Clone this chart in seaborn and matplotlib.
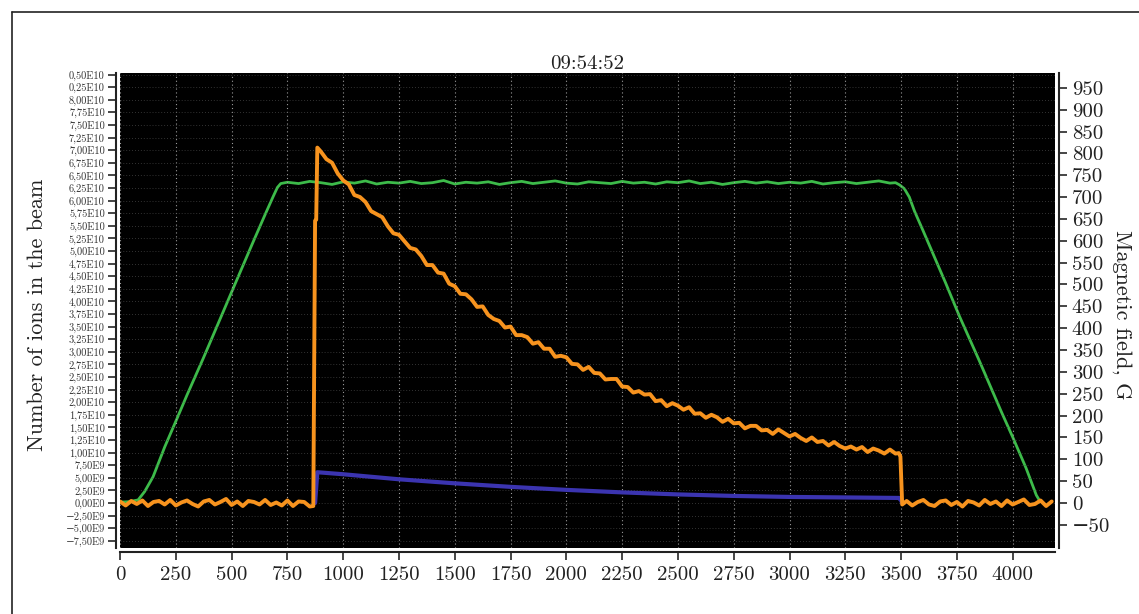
import numpy as np
import matplotlib.pyplot as plt
from matplotlib.lines import Line2D
import seaborn as sns

# Chart data
TITLE = '09:54:52'
ION_LABEL = 'Number of ions in the beam'
FIELD_LABEL = 'Magnetic field, G'

# orange trace: number of ions (units of 1e10)
ion_x = np.concatenate([np.arange(0, 875, 25), [866, 874, 879, 884],
                        np.arange(900, 3500, 25), [3490, 3497, 3505],
                        np.arange(3525, 4200, 25)])
ion_vals = [
    0.03, -0.05, 0.04, -0.02, 0.05, -0.06, 0.02, 0.04, -0.03, 0.06, -0.05, 0.01,
    0.05, -0.02, -0.07, 0.03, 0.06, -0.03, 0.02, 0.08, -0.04, 0.03, -0.06, 0.04,
    0.02, -0.03, 0.06, -0.04, 0.01, -0.05, 0.05, -0.06, 0.03, 0.02, -0.07,
    -0.06, 5.60, 5.62, 7.05,
    6.97, 6.82, 6.75, 6.54, 6.40, 6.32, 6.11, 6.07,
    5.97, 5.79, 5.73, 5.67, 5.49, 5.35, 5.32, 5.19,
    5.06, 5.03, 4.90, 4.72, 4.72, 4.57, 4.55, 4.35,
    4.30, 4.15, 4.14, 4.04, 3.89, 3.90, 3.73, 3.65,
    3.61, 3.48, 3.50, 3.33, 3.33, 3.29, 3.16, 3.19,
    3.06, 3.06, 2.90, 2.92, 2.89, 2.76, 2.75, 2.64,
    2.70, 2.58, 2.57, 2.45, 2.46, 2.46, 2.31, 2.30,
    2.19, 2.22, 2.15, 2.16, 2.02, 2.04, 1.92, 1.98,
    1.93, 1.85, 1.90, 1.77, 1.78, 1.69, 1.75, 1.70,
    1.61, 1.67, 1.58, 1.59, 1.48, 1.53, 1.53, 1.44,
    1.45, 1.37, 1.46, 1.39, 1.32, 1.37, 1.29, 1.23,
    1.30, 1.21, 1.23, 1.14, 1.21, 1.13, 1.08, 1.12,
    1.06, 1.11, 1.01, 1.08, 1.04, 0.98, 1.06, 0.98,
    0.99, 0.92, -0.03,
    0.04, -0.05, 0.02, 0.06, -0.03, -0.06, 0.03, 0.05, -0.04,
    0.02, -0.07, 0.04, 0.01, -0.05, 0.06, -0.02, 0.03, -0.06,
    0.05, -0.03, 0.02, 0.07, -0.04, -0.02, 0.05, -0.06, 0.03,
]

# blue trace: second beam signal (units of 1e10)
beam_x = [874, 884, 1000, 1250, 1500, 1750, 2000, 2250, 2500, 2750,
          3000, 3250, 3490, 3500, 3505, 3512]
beam_vals = [0.0, 0.61, 0.57, 0.47, 0.39, 0.32, 0.26, 0.21, 0.17,
             0.14, 0.12, 0.11, 0.10, 0.05, 0.0, 0.0]

# green trace: magnetic field, G
field_x = np.concatenate([[0, 40, 81, 110, 148, 200, 255, 300, 372, 450, 506,
                           596, 650, 685, 705, 720],
                          np.arange(750, 3500, 50),
                          [3475, 3493, 3515, 3537, 3560, 3597, 3700, 3761,
                           3851, 3950, 4000, 4060, 4106, 4120]])
field_vals = [
    2, 3, 7, 26, 60, 128, 193, 247, 330, 423, 490, 597, 660, 700, 722, 731,
    734, 731, 736, 733, 729, 735, 732, 737, 730, 734, 732,
    736, 731, 733, 738, 730, 734, 732, 735, 729, 733, 736,
    731, 734, 737, 732, 730, 735, 733, 731, 736, 732, 734,
    730, 735, 733, 737, 731, 734, 729, 733, 736, 732, 735,
    731, 734, 732, 736, 730, 733, 735, 731, 734, 737, 732,
    733, 728, 719, 700, 668, 625, 503, 428, 325, 208, 151, 80, 18, 6,
]

ion_ticks = np.arange(-3, 35) * 0.25e10
ion_tick_labels = [
    '−7,50E9', '−5,00E9', '−2,50E9', '0,00E0', '2,50E9', '5,00E9', '7,50E9',
    '1,00E10', '1,25E10', '1,50E10', '1,75E10', '2,00E10', '2,25E10', '2,50E10', '2,75E10',
    '3,00E10', '3,25E10', '3,50E10', '3,75E10', '4,00E10', '4,25E10', '4,50E10', '4,75E10',
    '5,00E10', '5,25E10', '5,50E10', '5,75E10', '6,00E10', '6,25E10', '6,50E10', '6,75E10',
    '7,00E10', '7,25E10', '7,50E10', '7,75E10', '8,00E10', '0,25E10', '0,50E10',
]
field_ticks = np.arange(-50, 951, 50)
time_ticks = np.arange(0, 4001, 250)

ORANGE = '#f7931e'
GREEN = '#3dbb4a'
BLUE = '#3b34b0'

sns.set_style('ticks')
plt.rcParams['font.family'] = ['cmr10', 'DejaVu Serif']
plt.rcParams['axes.unicode_minus'] = True

fig = plt.figure(figsize=(11.39, 6.14), dpi=100)
ax = fig.add_axes([0.1054, 0.1075, 0.8209, 0.7736])
ax2 = ax.twinx()
ax2.patch.set_visible(True)
ax2.set_facecolor('black')
ax.set_zorder(ax2.get_zorder() + 1)
ax.patch.set_visible(False)

sns.lineplot(x=field_x, y=field_vals, ax=ax2, color=GREEN, lw=2.0, estimator=None)
sns.lineplot(x=beam_x, y=np.array(beam_vals) * 1e10, ax=ax, color=BLUE, lw=3.0, estimator=None)
sns.lineplot(x=ion_x, y=np.array(ion_vals) * 1e10, ax=ax, color=ORANGE, lw=2.8, estimator=None)

ax.set_xlim(0, 4190)
ax.set_ylim(-0.893e10, 8.53e10)
ax2.set_ylim(-103, 984)

ax.set_xticks(time_ticks)
ax.set_yticks(ion_ticks, labels=ion_tick_labels)
ax2.set_yticks(field_ticks)

# dotted scope grid
ax.xaxis.grid(True, color='#9a9a9a', ls=(0, (1, 2.5)), lw=0.8)
ax.yaxis.grid(True, color='#444444', ls=(0, (1, 2.5)), lw=0.6)
ax2.grid(False)

for s in ['top', 'right']:
    ax.spines[s].set_visible(False)
for s in ['top', 'left', 'bottom']:
    ax2.spines[s].set_visible(False)
ax.spines['left'].set_position(('outward', 3))
ax.spines['bottom'].set_position(('outward', 3))
ax2.spines['right'].set_position(('outward', 3))
for sp in [ax.spines['left'], ax.spines['bottom'], ax2.spines['right']]:
    sp.set_linewidth(1.5)
    sp.set_color('#222222')

ax.tick_params(axis='y', length=6, width=1.2, labelsize=7.5, pad=2, labelcolor='#333333')
ax.tick_params(axis='x', length=6, width=1.2, labelsize=15, pad=4, labelcolor='#222222')
ax2.tick_params(axis='y', length=6, width=1.2, labelsize=15, pad=3, labelcolor='#222222')

ax.set_ylabel(ION_LABEL, fontsize=16, color='#222222', va='center')
ax.yaxis.set_label_coords(-0.089, 0.49)
ax2.set_ylabel(FIELD_LABEL, fontsize=16, rotation=270, color='#222222', va='center')
ax2.yaxis.set_label_coords(1.072, 0.49)
ax.set_title(TITLE, fontsize=15, pad=3, color='#222222')

# outer frame of the screenshot
fig.add_artist(Line2D([12 / 1139, 12 / 1139], [0, 1 - 12 / 614], color='#222222', lw=1.2,
                      transform=fig.transFigure))
fig.add_artist(Line2D([12 / 1139, 1], [1 - 12 / 614, 1 - 12 / 614], color='#222222', lw=1.2,
                      transform=fig.transFigure))

fig.savefig('out.png', dpi=100)
